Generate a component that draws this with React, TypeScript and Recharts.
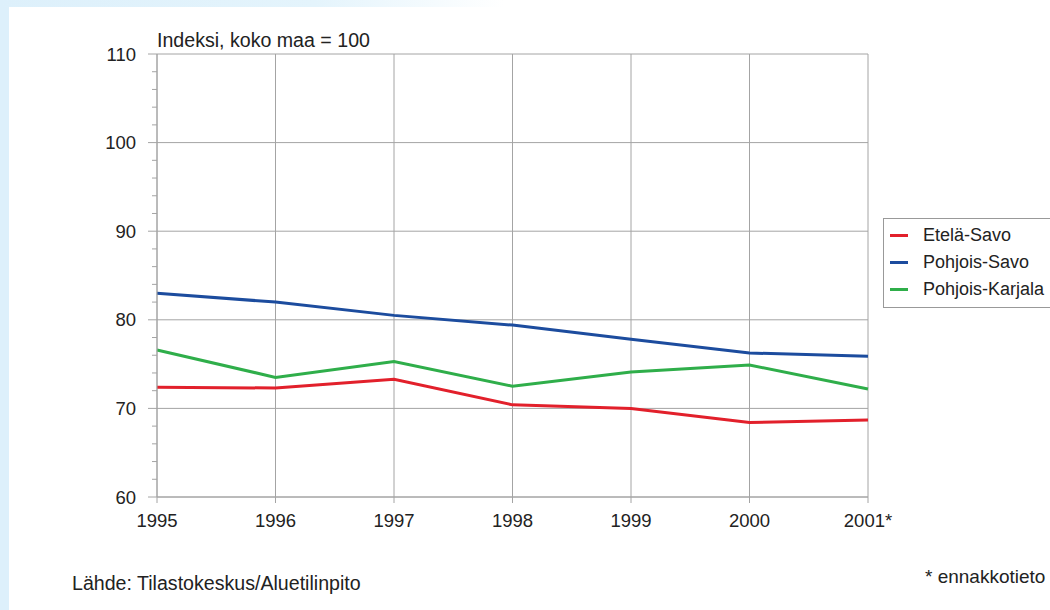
import { LineChart, Line, XAxis, YAxis, CartesianGrid } from "recharts";

const YEARS = ["1995", "1996", "1997", "1998", "1999", "2000", "2001*"];

// Index, whole country = 100
const ETELA_SAVO = [72.4, 72.3, 73.3, 70.4, 70.0, 68.4, 68.7];
const POHJOIS_SAVO = [83.0, 82.0, 80.5, 79.4, 77.8, 76.25, 75.9];
const POHJOIS_KARJALA = [76.6, 73.5, 75.3, 72.5, 74.1, 74.9, 72.2];

const Y_TICKS = [60, 62, 64, 66, 68, 70, 72, 74, 76, 78, 80, 82, 84, 86, 88, 90, 92, 94, 96, 98, 100, 102, 104, 106, 108, 110];
const Y_MAJOR = [60, 70, 80, 90, 100, 110];

const SERIES = [
  { key: "etela", name: "Etelä-Savo", color: "#e2202b", values: ETELA_SAVO },
  { key: "psavo", name: "Pohjois-Savo", color: "#1c4c9e", values: POHJOIS_SAVO },
  { key: "pkarjala", name: "Pohjois-Karjala", color: "#2fae4a", values: POHJOIS_KARJALA },
];

const data = YEARS.map((year, i) => {
  const row: Record<string, string | number> = { year };
  SERIES.forEach((s) => {
    row[s.key] = s.values[i];
  });
  return row;
});

const FONT = '"Liberation Sans", Arial, sans-serif';
const GRID = "#a4a4a4";

function YTick(props: any) {
  const { x, y, payload } = props;
  const major = Y_MAJOR.includes(payload.value);
  return (
    <g>
      <line x1={x - (major ? 9 : 5)} x2={x} y1={y} y2={y} stroke={GRID} strokeWidth={1} />
      {major && (
        <text x={x - 21} y={y} textAnchor="end" dominantBaseline="central" fontSize={18.5} fill="#222" fontFamily={FONT}>
          {payload.value}
        </text>
      )}
    </g>
  );
}

export default function App() {
  return (
    <div
      style={{
        position: "fixed",
        left: 0,
        top: 0,
        width: 1050,
        height: 610,
        background: "linear-gradient(to right, #ddf0fb 0%, #e4f4fc 30%, #ffffff 48%)",
        fontFamily: FONT,
        overflow: "hidden",
      }}
    >
      <div style={{ position: "absolute", left: 0, top: 7, width: 9, height: 603, background: "#ddf0fb" }} />
      <div style={{ position: "absolute", left: 9, top: 7, right: 0, bottom: 0, background: "#ffffff" }} />

      <div style={{ position: "absolute", left: 0, top: 0 }}>
        <LineChart width={1050} height={610} data={data} margin={{ top: 54, right: 182, bottom: 73, left: 97 }}>
          <CartesianGrid stroke={GRID} horizontalValues={Y_MAJOR} />
          <XAxis
            dataKey="year"
            stroke={GRID}
            tickSize={6}
            tickMargin={11}
            height={40}
            interval={0}
            tick={{ fill: "#222", fontSize: 18.5, fontFamily: FONT }}
          />
          <YAxis
            type="number"
            domain={[60, 110]}
            ticks={Y_TICKS}
            interval={0}
            width={60}
            stroke={GRID}
            tickSize={0}
            tickMargin={0}
            tickLine={false}
            tick={(p: any) => <YTick {...p} />}
          />
          {SERIES.map((s) => (
            <Line
              key={s.key}
              type="linear"
              dataKey={s.key}
              name={s.name}
              stroke={s.color}
              strokeWidth={3}
              dot={false}
              isAnimationActive={false}
            />
          ))}
        </LineChart>
      </div>

      <div style={{ position: "absolute", left: 157, top: 29, fontSize: 19.6, color: "#222" }}>
        Indeksi, koko maa = 100
      </div>

      <div
        style={{
          position: "absolute",
          left: 883,
          top: 218,
          width: 180,
          height: 90,
          border: "1px solid #999",
          background: "#fff",
          boxSizing: "border-box",
        }}
      >
        {SERIES.map((s, i) => (
          <div
            key={s.key}
            style={{ position: "absolute", left: 6, top: 5 + i * 27, display: "flex", alignItems: "center", height: 22 }}
          >
            <span style={{ display: "inline-block", width: 18, height: 3, background: s.color, marginRight: 15 }} />
            <span style={{ fontSize: 18, color: "#222", whiteSpace: "nowrap" }}>{s.name}</span>
          </div>
        ))}
      </div>

      <div style={{ position: "absolute", left: 72, top: 572, fontSize: 19.6, color: "#222" }}>
        Lähde: Tilastokeskus/Aluetilinpito
      </div>
      <div style={{ position: "absolute", left: 925, top: 566, fontSize: 19, color: "#222", whiteSpace: "nowrap" }}>
        * ennakkotieto
      </div>
    </div>
  );
}
